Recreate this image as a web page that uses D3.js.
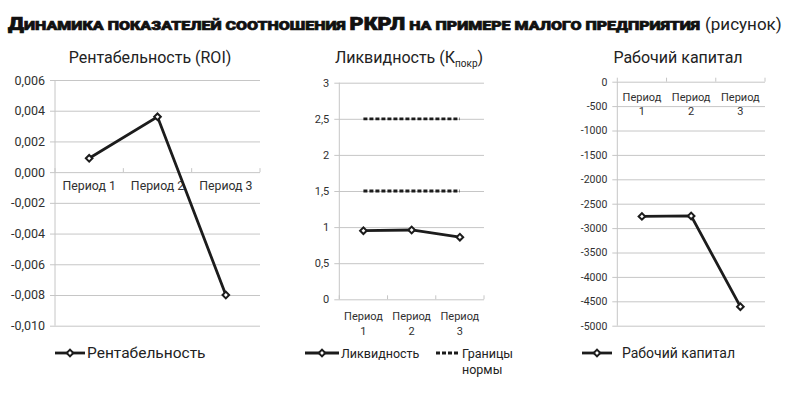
<!DOCTYPE html>
<html>
<head>
<meta charset="utf-8">
<script src="https://cdnjs.cloudflare.com/ajax/libs/d3/7.8.5/d3.min.js"></script>
<style>
  body { margin: 0; background: #fff; }
  svg { display: block; font-family: Roboto, "Noto Sans", sans-serif; }
</style>
</head>
<body>
<div id="chart"></div>
<script>
// данные
var periods = ['Период 1', 'Период 2', 'Период 3'];
var periodsShort = [['Период', '1'], ['Период', '2'], ['Период', '3']];

var roiValues = [0.0009, 0.0036, -0.008];
var roiTicks = [0.006, 0.004, 0.002, 0, -0.002, -0.004, -0.006, -0.008, -0.010];

var liquidityValues = [0.95, 0.96, 0.86];
var normUpper = [2.5, 2.5, 2.5];
var normLower = [1.5, 1.5, 1.5];
var liquidityTicks = [3, 2.5, 2, 1.5, 1, 0.5, 0];

var capitalValues = [-2760, -2750, -4610];
var capitalTicks = [0, -500, -1000, -1500, -2000, -2500, -3000, -3500, -4000, -4500, -5000];

var width = 800,
    height = 395;

var svg = d3.select('#chart').append('svg')
    .attr('width', width)
    .attr('height', height);

var gridColor = '#c6c6c6';
var textColor = '#303030';
var lineColor = '#1c1c1c';

// заголовок
svg.append('text')
    .attr('x', 8)
    .attr('y', 30)
    .attr('textLength', 692)
    .attr('lengthAdjust', 'spacingAndGlyphs')
    .style('font-weight', 900)
    .style('font-size', '13px')
    .style('fill', '#111')
    .style('stroke', '#111')
    .style('stroke-width', 0.7)
    .html('<tspan style="font-size:17.5px">Д</tspan>ИНАМИКА ПОКАЗАТЕЛЕЙ СООТНОШЕНИЯ <tspan style="font-size:17.5px">РКРЛ</tspan> НА ПРИМЕРЕ МАЛОГО ПРЕДПРИЯТИЯ');
svg.append('text')
    .attr('x', 705)
    .attr('y', 30)
    .style('font-size', '17px')
    .style('fill', '#222')
    .text('(рисунок)');

function fmtComma(d, digits) {
    return d3.format('.' + digits + 'f')(d).replace('.', ',').replace('−', '-');
}

// ромбовидный маркер (повернутый квадрат)
var markerPath = d3.symbol(d3.symbolSquare, 22)();

function addMarker(g, cx, cy) {
    g.append('path')
        .attr('d', markerPath)
        .attr('transform', 'translate(' + cx + ',' + cy + ') rotate(45)')
        .attr('fill', '#fff')
        .attr('stroke', lineColor)
        .attr('stroke-width', 2);
}

//рисуем одну панель
function drawPanel(cfg) {
    var g = svg.append('g');
    var x = d3.scaleBand().domain(d3.range(3)).range([cfg.left, cfg.right]);
    var y = d3.scaleLinear().domain(cfg.domain).range([cfg.bottom, cfg.top]);

    // сетка и подписи оси Y
    var yAxis = d3.axisLeft(y)
        .tickValues(cfg.ticks)
        .tickFormat(cfg.format)
        .tickSizeInner(-(cfg.right - cfg.left + 5))
        .tickSizeOuter(0)
        .tickPadding(5);
    var ya = g.append('g')
        .attr('transform', 'translate(' + (cfg.left - 5) + ',0)')
        .call(yAxis);
    ya.select('.domain').remove();
    ya.selectAll('line').attr('stroke', gridColor);
    ya.selectAll('text')
        .attr('fill', textColor)
        .style('font-size', cfg.tickFont + 'px')
        .style('font-family', 'Roboto, sans-serif');
    // вертикальная ось
    g.append('line')
        .attr('x1', cfg.left).attr('x2', cfg.left)
        .attr('y1', cfg.top).attr('y2', cfg.bottom)
        .attr('stroke', gridColor);

    // ось категорий
    var y0 = y(0);
    var boundaries = [0, 1, 2].map(function(i) { return x(i); }).concat([cfg.right]);
    g.selectAll('.cat-tick')
        .data(boundaries)
        .enter()
        .append('line')
        .attr('x1', function(d) { return d; })
        .attr('x2', function(d) { return d; })
        .attr('y1', y0)
        .attr('y2', y0 - 4)
        .attr('stroke', gridColor);

    var labels = g.selectAll('.cat-label')
        .data(cfg.categories)
        .enter()
        .append('text')
        .attr('text-anchor', 'middle')
        .attr('fill', textColor)
        .style('font-size', cfg.catFont + 'px');
    labels.each(function(d, i) {
        var t = d3.select(this);
        var lines = Array.isArray(d) ? d : [d];
        lines.forEach(function(s, j) {
            t.append('tspan')
                .attr('x', x(i) + x.bandwidth() / 2)
                .attr('y', y0 + cfg.catDy + j * cfg.catLine)
                .text(s);
        });
    });

    // линии серий
    var line = d3.line()
        .x(function(d, i) { return x(i) + x.bandwidth() / 2; })
        .y(function(d) { return y(d); });
    cfg.series.forEach(function(s) {
        g.append('path')
            .datum(s.values)
            .attr('d', line)
            .attr('fill', 'none')
            .attr('stroke', lineColor)
            .attr('stroke-width', 2.8)
            .attr('stroke-dasharray', s.dashed ? '4,2' : null);
        if (s.marker) {
            s.values.forEach(function(d, i) {
                addMarker(g, x(i) + x.bandwidth() / 2, y(d));
            });
        }
    });

    // заголовок панели
    var title = g.append('text')
        .attr('x', cfg.titleX)
        .attr('y', 63)
        .attr('text-anchor', 'middle')
        .attr('fill', '#222')
        .style('font-size', '16px');
    cfg.title.forEach(function(p) {
        var ts = title.append('tspan').text(p.text);
        if (p.sub) {
            ts.attr('dy', 4).style('font-size', '10px');
        } else if (p.after) {
            ts.attr('dy', -4);
        }
    });

    // легенда
    cfg.legend.forEach(function(l) {
        g.append('line')
            .attr('x1', l.x).attr('x2', l.x + l.len)
            .attr('y1', 353).attr('y2', 353)
            .attr('stroke', lineColor)
            .attr('stroke-width', 2.8)
            .attr('stroke-dasharray', l.dashed ? '4,2' : null);
        if (l.marker) {
            addMarker(g, l.x + l.len / 2, 353);
        }
        var t = g.append('text')
            .attr('fill', '#222')
            .style('font-size', l.font + 'px');
        l.text.forEach(function(s, j) {
            t.append('tspan')
                .attr('x', l.tx)
                .attr('y', 358 + j * 16)
                .text(s);
        });
    });
}

drawPanel({
    left: 55, right: 260, top: 80, bottom: 325.7,
    domain: [-0.010, 0.006],
    ticks: roiTicks,
    format: function(d) { return fmtComma(d, 3); },
    tickFont: 12.5,
    categories: periods,
    catFont: 12.3, catDy: 18, catLine: 14,
    series: [{ values: roiValues, marker: true }],
    titleX: 150,
    title: [{ text: 'Рентабельность (ROI)' }],
    legend: [{ x: 55, len: 30, marker: true, tx: 87, text: ['Рентабельность'], font: 15.5 }]
});

drawPanel({
    left: 339.3, right: 484, top: 82.7, bottom: 299.3,
    domain: [0, 3],
    ticks: liquidityTicks,
    format: function(d) { return d % 1 === 0 ? String(d) : fmtComma(d, 1); },
    tickFont: 11,
    categories: periodsShort,
    catFont: 11, catDy: 21, catLine: 15,
    series: [
        { values: liquidityValues, marker: true },
        { values: normUpper, dashed: true },
        { values: normLower, dashed: true }
    ],
    titleX: 409,
    title: [{ text: 'Ликвидность (К' }, { text: 'покр', sub: true }, { text: ')', after: true }],
    legend: [
        { x: 305, len: 34, marker: true, tx: 341, text: ['Ликвидность'], font: 12.5 },
        { x: 436, len: 23, dashed: true, tx: 462, text: ['Границы', 'нормы'], font: 12.5 }
    ]
});

drawPanel({
    left: 617.3, right: 765, top: 81.7, bottom: 325.7,
    domain: [-5000, 0],
    ticks: capitalTicks,
    format: function(d) { return String(d); },
    tickFont: 10.5,
    categories: periodsShort,
    catFont: 11, catDy: 19, catLine: 14,
    series: [{ values: capitalValues, marker: true }],
    titleX: 678,
    title: [{ text: 'Рабочий капитал' }],
    legend: [{ x: 582, len: 30, marker: true, tx: 622, text: ['Рабочий капитал'], font: 14 }]
});
</script>
</body>
</html>
